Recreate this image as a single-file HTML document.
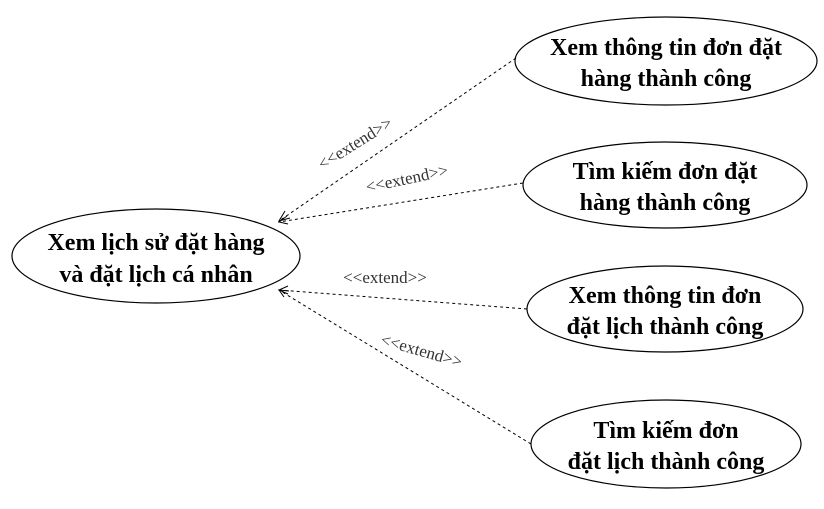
<!DOCTYPE html>
<html><head><meta charset="utf-8"><style>
html,body{margin:0;padding:0;background:#fff;}
svg{display:block;}
.t{font-family:"Liberation Serif","DejaVu Serif",serif;font-weight:bold;font-size:24px;fill:#000;text-anchor:middle;}
.l{font-family:"Liberation Serif","DejaVu Serif",serif;font-size:17px;fill:#333;text-anchor:middle;}
</style></head><body>
<svg width="824" height="509" viewBox="0 0 824 509">
<g fill="none" stroke="#000" stroke-width="1.2">
<ellipse cx="156" cy="256" rx="144" ry="47"/>
<ellipse cx="666" cy="61" rx="151" ry="44"/>
<ellipse cx="665" cy="185" rx="142" ry="43"/>
<ellipse cx="665" cy="309" rx="138" ry="43"/>
<ellipse cx="666" cy="444" rx="135" ry="44"/>
</g>
<g stroke="#000" stroke-width="1" stroke-dasharray="3,3" fill="none">
<line x1="516" y1="58" x2="279" y2="221"/>
<line x1="523" y1="183" x2="279" y2="222"/>
<line x1="527" y1="309" x2="279" y2="290"/>
<line x1="531" y1="444" x2="279" y2="290"/>
</g>
<g stroke="#000" stroke-width="1" fill="none">
<path d="M285 211 L279 221 L290 218"/>
<path d="M287 216 L279 222 L288 224"/>
<path d="M288 286 L279 290 L288 294"/>
<path d="M284 297 L279 290 L289 291"/>
</g>
<text class="l" transform="translate(358,148) rotate(-32)">&lt;&lt;extend&gt;&gt;</text>
<text class="l" transform="translate(408,184) rotate(-12)">&lt;&lt;extend&gt;&gt;</text>
<text class="l" x="385" y="283">&lt;&lt;extend&gt;&gt;</text>
<text class="l" transform="translate(420,356) rotate(16)">&lt;&lt;extend&gt;&gt;</text>
<text class="t" x="156" y="250">Xem lịch sử đặt hàng</text>
<text class="t" x="156" y="282">và đặt lịch cá nhân</text>
<text class="t" x="666" y="55">Xem thông tin đơn đặt</text>
<text class="t" x="666" y="86">hàng thành công</text>
<text class="t" x="665" y="179">Tìm kiếm đơn đặt</text>
<text class="t" x="665" y="210">hàng thành công</text>
<text class="t" x="665" y="303">Xem thông tin đơn</text>
<text class="t" x="665" y="334">đặt lịch thành công</text>
<text class="t" x="666" y="438">Tìm kiếm đơn</text>
<text class="t" x="666" y="469">đặt lịch thành công</text>
</svg>
</body></html>
